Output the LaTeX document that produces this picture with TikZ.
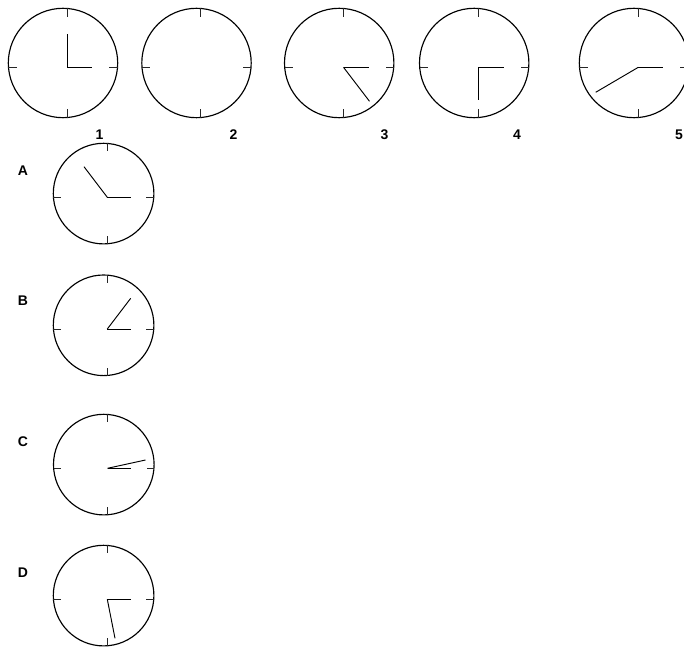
\documentclass[tikz,border=0pt]{standalone}
\usepackage{fontspec}
\setmainfont{Liberation Sans}
\tikzset{
  face/.style={line width=1.15pt, black},
  clocktick/.style={line width=0.85pt, black!85},
  hand/.style={line width=0.95pt, black},
  lbl/.style={font=\bfseries\fontsize{14}{14}\selectfont, inner sep=0pt}
}
% #1 name, #2 Hx, #3 Hy, #4 radius, #5 circle offset, #6 tick length
\newcommand\clockface[6]{%
  \coordinate (#1) at (#2,#3);
  \coordinate (#1c) at (#2-#5,#3-#5);
  \draw[face] (#1c) circle[radius=#4];
  \draw[clocktick] (#2,#3-#5-#4) -- ++(0,#6);
  \draw[clocktick] (#2,#3-#5+#4) -- ++(0,-#6);
  \draw[clocktick] (#2-#5-#4,#3) -- ++(#6,0);
  \draw[clocktick] (#2-#5+#4,#3) -- ++(-#6,0);
}
\begin{document}
\begin{tikzpicture}[x=1pt,y=-1pt]
\useasboundingbox (0,0) rectangle (684,647);
\clip (0,0) rectangle (684,647);
% top row
\clockface{k1}{67.3}{67.3}{54.7}{4.3}{8.3}
\clockface{k2}{200.8}{67.3}{54.7}{4.3}{8.3}
\clockface{k3}{343.5}{67.3}{54.7}{4.3}{8.3}
\clockface{k4}{478.5}{67.3}{54.7}{4.3}{8.3}
\clockface{k5}{638.3}{67.3}{54.7}{4.3}{8.3}
% left column
\clockface{ka}{107.3}{197.3}{50.3}{3.7}{7.5}
\clockface{kb}{107.3}{329}{50.3}{3.7}{7.5}
\clockface{kc}{107.5}{468.3}{50.3}{3.7}{7.5}
\clockface{kd}{107.3}{599.3}{50.3}{3.7}{7.5}
% hands
\draw[hand] (k1) -- ++(0,-33.3);
\draw[hand] (k1) -- ++(25,0);
\draw[hand] (k3) -- ++(25.5,0);
\draw[hand] (k3) -- ++(26,34);
\draw[hand] (k4) -- ++(25,0);
\draw[hand] (k4) -- ++(0,32.5);
\draw[hand] (k5) -- ++(25,0);
\draw[hand] (k5) -- ++(-42.6,25);
\draw[hand] (ka) -- ++(23.4,0);
\draw[hand] (ka) -- ++(-23.3,-30.6);
\draw[hand] (kb) -- ++(23.4,0);
\draw[hand] (kb) -- ++(23.4,-30.7);
\draw[hand] (kc) -- ++(23,0);
\draw[hand] (kc) -- ++(38,-8.3);
\draw[hand] (kd) -- ++(23.4,0);
\draw[hand] (kd) -- ++(7.7,39);
% labels
\node[lbl] (l1) at (99.5,135) {1};
\node[lbl] (l2) at (233.5,135) {2};
\node[lbl] (l3) at (384.5,135) {3};
\node[lbl] (l4) at (517,135) {4};
\node[lbl] (l5) at (679,135) {5};
\node[lbl] (lA) at (23,170.5) {A};
\node[lbl] (lB) at (23,301) {B};
\node[lbl] (lC) at (23,442) {C};
\node[lbl] (lD) at (23,572.7) {D};
\end{tikzpicture}
\end{document}
